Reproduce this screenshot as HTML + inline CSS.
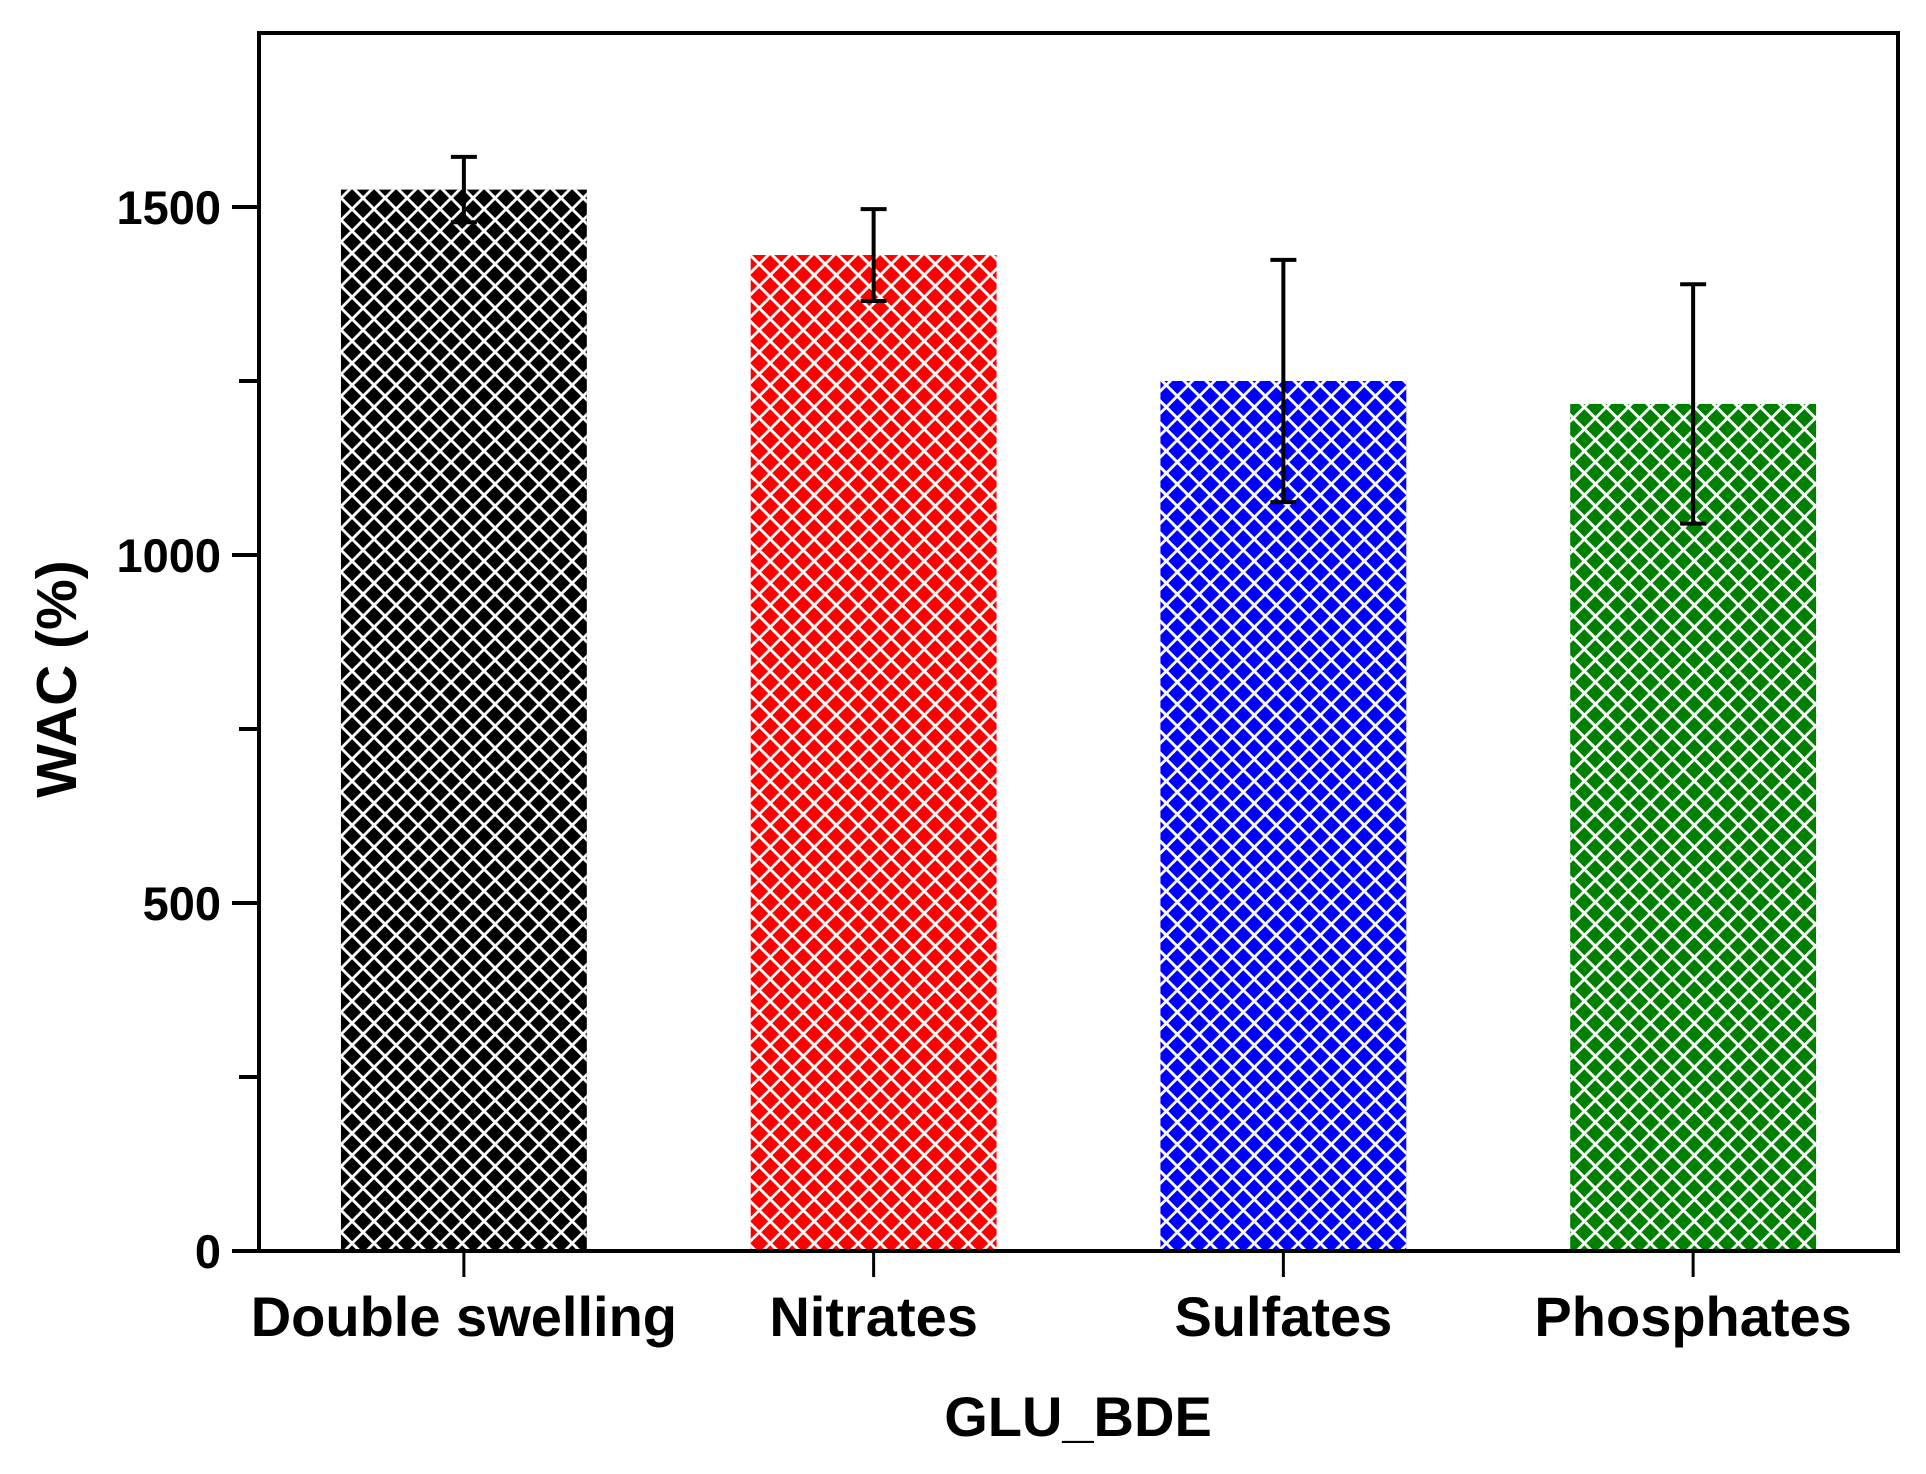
<!DOCTYPE html>
<html><head><meta charset="utf-8"><style>
html,body{margin:0;padding:0;background:#fff}
svg{display:block}
text{font-family:"Liberation Sans",Arial,sans-serif;font-weight:bold;fill:#000}
</style></head><body>
<svg id="chart" width="1926" height="1474" viewBox="0 0 1926 1474" xmlns="http://www.w3.org/2000/svg">
<defs>
<pattern id="hatch" patternUnits="userSpaceOnUse" width="15.56" height="15.56" patternTransform="rotate(45)">
<path d="M7.78,0 V15.56 M0,7.78 H15.56" stroke="#fff" stroke-width="2.8"/>
</pattern>
</defs>
<g id="bars"></g>
<g id="errs"></g>
<g id="axes"></g>
</svg>
<script>
const categories = ["Double swelling","Nitrates","Sulfates","Phosphates"];
const values = [1525, 1431, 1250, 1217];
const errors = [47, 66, 174, 172];
const colors = ["#000000","#ff0000","#0000ff","#008000"];
const yTicks = [0, 500, 1000, 1500];
const yMinor = [250, 750, 1250];

const NS="http://www.w3.org/2000/svg";
const L=259,R=1898,T=33,B=1251;
const yMin=0,yMax=1750,xMin=0.5,xMax=4.5;
const ys=v=>B-(v-yMin)/(yMax-yMin)*(B-T);
const xs=i=>L+((i+1)-xMin)/(xMax-xMin)*(R-L);
const bw=0.6*(R-L)/(xMax-xMin);
function mk(tag,attrs,parent){const e=document.createElementNS(NS,tag);for(const k in attrs)e.setAttribute(k,attrs[k]);parent.appendChild(e);return e;}
const gb=document.getElementById('bars'),ge=document.getElementById('errs'),ga=document.getElementById('axes');
categories.forEach((c,i)=>{
  const g=mk('g',{},gb);
  
  
  const x=xs(i)-bw/2,y=ys(values[i]),h=ys(0)-y;
  mk('rect',{x:x,y:y,width:bw,height:h,fill:colors[i]},g);
  mk('rect',{x:x,y:y,width:bw,height:h,fill:'url(#hatch)'},g);
  const eg=mk('g',{stroke:'#000','stroke-width':4},ge);
  
  
  const cx=xs(i),t=ys(values[i]+errors[i]),b=ys(values[i]-errors[i]);
  mk('line',{x1:cx,y1:t,x2:cx,y2:b},eg);
  mk('line',{x1:cx-13,y1:t,x2:cx+13,y2:t},eg);
  mk('line',{x1:cx-13,y1:b,x2:cx+13,y2:b},eg);
  const tk=mk('line',{x1:cx,y1:B,x2:cx,y2:B+26,stroke:'#000','stroke-width':3},ga);
  
  
  const lb=mk('text',{x:cx,y:1336,'text-anchor':'middle','font-size':56},ga);
  
  
  lb.textContent=c;
});
const frame=mk('rect',{x:L,y:T,width:R-L,height:B-T,fill:'none',stroke:'#000','stroke-width':4},ga);


yTicks.forEach(v=>{
  const y=ys(v);
  const tk=mk('line',{x1:L-27,y1:y,x2:L,y2:y,stroke:'#000','stroke-width':4},ga);
  
  
  const t=mk('text',{x:221,y:y+17,'text-anchor':'end','font-size':47},ga);
  
  
  t.textContent=v;
});
yMinor.forEach(v=>{
  const y=ys(v);
  const tk=mk('line',{x1:L-20,y1:y,x2:L,y2:y,stroke:'#000','stroke-width':4},ga);
  
  
});
const xt=mk('text',{x:1078,y:1436,'text-anchor':'middle','font-size':56},ga);


xt.textContent='GLU_BDE';
const yt=mk('text',{x:0,y:0,'text-anchor':'middle','font-size':57,transform:'translate(76,679) rotate(-90)'},ga);


yt.textContent='WAC (%)';
</script>
</body></html>
